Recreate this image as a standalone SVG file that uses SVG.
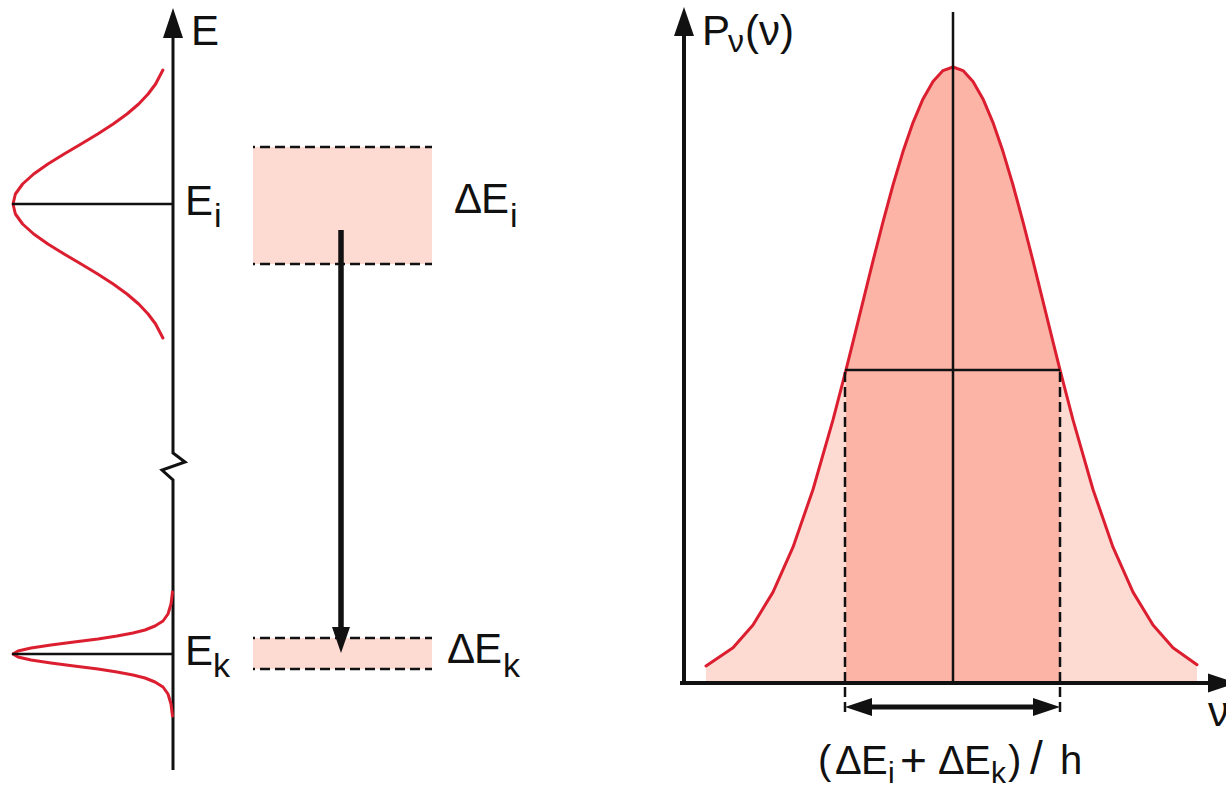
<svg xmlns="http://www.w3.org/2000/svg" width="1226" height="787" viewBox="0 0 1226 787">
<style>
.txt{font-family:"Liberation Sans",Arial,sans-serif;font-size:42px;fill:#111}
.sub{font-size:34px}
.red{fill:none;stroke:#dc1f30;stroke-width:3;stroke-linejoin:round;stroke-linecap:round}
.blk{fill:none;stroke:#111;stroke-width:2.5}
.dash{fill:none;stroke:#111;stroke-width:2.5;stroke-dasharray:10 5}
.light{fill:#fddbd3}
.dark{fill:#fbb4a6}
.head{fill:#111}
</style>
<g id="left-axis">
<polyline class="blk" style="stroke-width:3" points="173,36 173,453 185,462 162,470 173,480 173,770"/>
<polygon class="head" points="173,8 163,38 183,38"/>
<text class="txt" x="191" y="45">E</text>
</g>
<g id="level-i">
<polyline class="red" points="162.9,70 155.6,84 148.1,94 138.7,104 127,114 113.2,124 97.7,134 81.1,144 64.1,154 47.9,164 33.7,174 22.6,184 15.4,194 13,204 15.4,214 22.6,224 33.7,234 47.9,244 64.1,254 81.1,264 97.7,274 113.2,284 127,294 138.7,304 148.1,314 155.6,324 162.9,338"/>
<line class="blk" x1="12" y1="204" x2="173" y2="204"/>
<text class="txt" x="185" y="215">E<tspan class="sub" x="214" y="227">i</tspan></text>
</g>
<g id="level-k">
<polyline class="red" points="172.5,592 171,604 168,614 163,621 155,626 145,630 133,633 117,636 98,639 74,642 51,645 31,648 18,651 13,654 18,657 31,660 51,663 74,666 98,669 117,672 133,675 145,678 155,682 163,687 168,694 171,704 172.5,716"/>
<line class="blk" x1="12" y1="654" x2="173" y2="654"/>
<text class="txt" x="185" y="665">E<tspan class="sub" x="213" y="677">k</tspan></text>
</g>
<g id="band-i">
<rect class="light" x="253" y="147" width="179" height="117"/>
<line class="dash" x1="253" y1="147" x2="432" y2="147" stroke-dashoffset="8"/>
<line class="dash" x1="253" y1="264" x2="432" y2="264" stroke-dashoffset="8"/>
<text class="txt" x="454" y="213">Δ<tspan x="481">E</tspan><tspan class="sub" x="510" y="227">i</tspan></text>
</g>
<g id="band-k">
<rect class="light" x="253" y="638" width="179" height="31"/>
<line class="dash" x1="253" y1="638" x2="432" y2="638" stroke-dashoffset="8"/>
<line class="dash" x1="253" y1="669" x2="432" y2="669" stroke-dashoffset="8"/>
<text class="txt" x="447" y="663">Δ<tspan x="474">E</tspan><tspan class="sub" x="503" y="677">k</tspan></text>
</g>
<g id="spectrum">
<polygon class="light" points="706,683 706,666 733,647.7 753,625 773,592.1 793,547.2 813,489.5 833,419.9 846,369.8 853,341.8 873,260.9 883,221.8 893,185 903,151.6 913,122.6 923,98.9 933,81.4 943,70.6 953,67 963,70.6 973,81.4 983,98.9 993,122.6 1003,151.6 1013,185 1023,221.8 1033,260.9 1053,341.8 1060,369.8 1073,419.9 1093,489.5 1113,547.2 1133,592.1 1153,625 1173,647.7 1197,664.7 1197,683"/>
<polygon class="dark" points="846,683 846,369.8 853,341.8 873,260.9 883,221.8 893,185 903,151.6 913,122.6 923,98.9 933,81.4 943,70.6 953,67 963,70.6 973,81.4 983,98.9 993,122.6 1003,151.6 1013,185 1023,221.8 1033,260.9 1053,341.8 1060,369.8 1060,683"/>
<polyline class="red" points="706,666 733,647.7 753,625 773,592.1 793,547.2 813,489.5 833,419.9 846,369.8 853,341.8 873,260.9 883,221.8 893,185 903,151.6 913,122.6 923,98.9 933,81.4 943,70.6 953,67 963,70.6 973,81.4 983,98.9 993,122.6 1003,151.6 1013,185 1023,221.8 1033,260.9 1053,341.8 1060,369.8 1073,419.9 1093,489.5 1113,547.2 1133,592.1 1153,625 1173,647.7 1197,664.7"/>
<line class="blk" x1="953" y1="12" x2="953" y2="683"/>
<line class="blk" x1="845" y1="370" x2="1060" y2="370"/>
<line class="dash" x1="845" y1="372" x2="845" y2="716"/>
<line class="dash" x1="1060" y1="372" x2="1060" y2="716"/>
</g>
<g id="plot-axes">
<line class="blk" style="stroke-width:4" x1="684" y1="34" x2="684" y2="685"/>
<polygon class="head" points="684,7 674,36 694,36"/>
<line class="blk" style="stroke-width:4" x1="680" y1="683" x2="1212" y2="683"/>
<polygon class="head" points="1236,683 1208,673.5 1208,692.5"/>
<text class="txt" x="702" y="45">P<tspan class="sub" style="font-size:32px" x="728" y="52">ν</tspan><tspan x="745" y="45">(ν)</tspan></text>
<text class="txt" x="1208" y="726">ν</text>
</g>
<g id="connectors">
<line class="blk" style="stroke-width:5.5" x1="341" y1="230" x2="341" y2="630"/>
<polygon class="head" points="341,653 332,627 350,627"/>
<line class="blk" style="stroke-width:5" x1="868" y1="707" x2="1037" y2="707"/>
<polygon class="head" points="845,707 872,698 872,716"/>
<polygon class="head" points="1060,707 1033,698 1033,716"/>
</g>
<g id="width-label">
<text class="txt" style="font-size:40px" y="774"><tspan x="818">(</tspan><tspan x="835">Δ</tspan><tspan x="861">E</tspan><tspan style="font-size:30px" x="888" y="783">i</tspan><tspan style="font-size:46px" x="900" y="776">+</tspan><tspan x="938" y="774">Δ</tspan><tspan x="964">E</tspan><tspan style="font-size:30px" x="991" y="783">k</tspan><tspan x="1008" y="774">)</tspan><tspan style="font-size:46px" x="1030">/</tspan><tspan x="1060">h</tspan></text>
</g>
</svg>
